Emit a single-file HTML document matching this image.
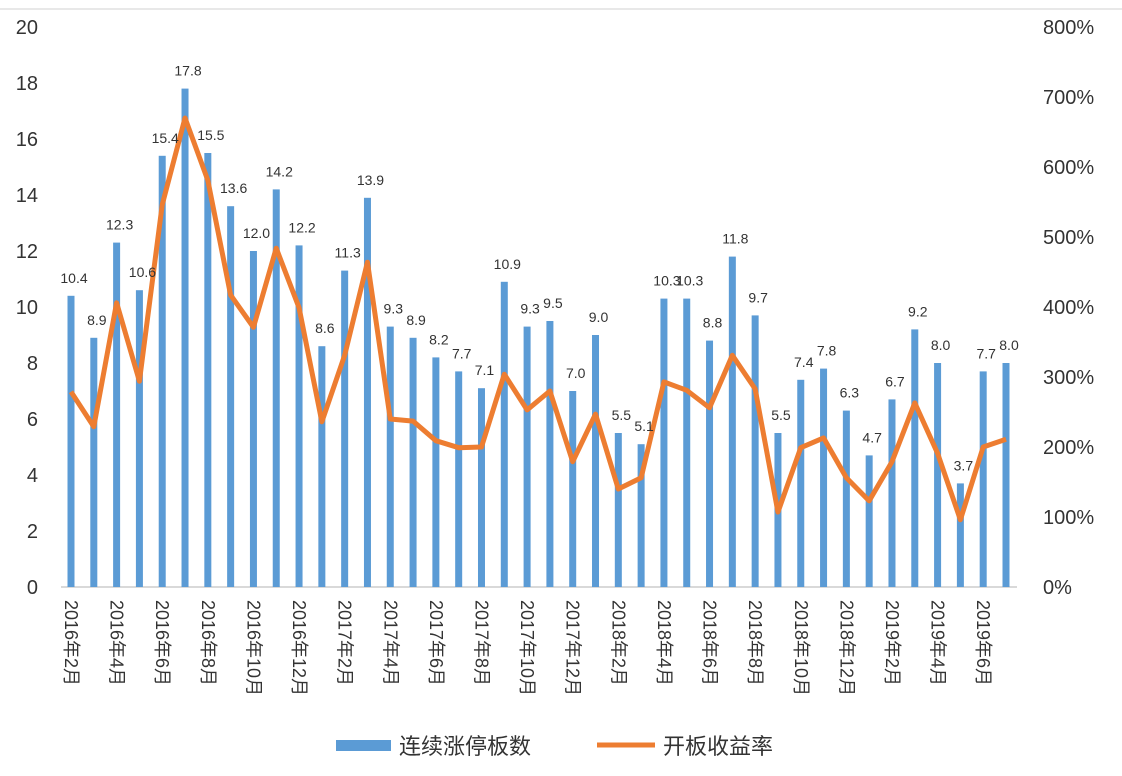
<!DOCTYPE html>
<html><head><meta charset="utf-8"><style>
body{margin:0;background:#fff;width:1122px;height:771px;overflow:hidden;font-family:"Liberation Sans","Noto Sans CJK SC",sans-serif}
</style></head><body>
<svg id="chart" width="1122" height="771" xmlns="http://www.w3.org/2000/svg" style="font-family:'Liberation Sans','Noto Sans CJK SC',sans-serif">
<line x1="0" y1="9" x2="1122" y2="9" stroke="#d0d0d0" stroke-width="1"/>
<g id="g"></g>
<g>
<rect x="336" y="740" width="55" height="11" fill="#5b9bd5"/>
<text x="399" y="754" font-size="22" fill="#333">连续涨停板数</text>
<line x1="597" y1="745" x2="655" y2="745" stroke="#ed7d31" stroke-width="5"/>
<text x="663" y="754" font-size="22" fill="#333">开板收益率</text>
</g>
</svg>
<script>
const months=["2016-02","2016-03","2016-04","2016-05","2016-06","2016-07","2016-08","2016-09","2016-10","2016-11","2016-12","2017-01","2017-02","2017-03","2017-04","2017-05","2017-06","2017-07","2017-08","2017-09","2017-10","2017-11","2017-12","2018-01","2018-02","2018-03","2018-04","2018-05","2018-06","2018-07","2018-08","2018-09","2018-10","2018-11","2018-12","2019-01","2019-02","2019-03","2019-04","2019-05","2019-06","2019-07"];
const boards=[10.4,8.9,12.3,10.6,15.4,17.8,15.5,13.6,12.0,14.2,12.2,8.6,11.3,13.9,9.3,8.9,8.2,7.7,7.1,10.9,9.3,9.5,7.0,9.0,5.5,5.1,10.3,10.3,8.8,11.8,9.7,5.5,7.4,7.8,6.3,4.7,6.7,9.2,8.0,3.7,7.7,8.0];
const returns=[279,229,406,294,546,670,581,417,371,484,399,236,331,464,240,237,209,199,200,304,253,280,179,247,140,156,293,281,256,331,283,107,199,213,156,123,179,263,191,96,200,211];
const leftTicks=[0,2,4,6,8,10,12,14,16,18,20];
const rightTicks=["0%","100%","200%","300%","400%","500%","600%","700%","800%"];
const NS="http://www.w3.org/2000/svg";
const g=document.getElementById('g');
const y0=587,y1=27,x0=71,x1=1006;
const yL=v=>y0-(v/20)*(y0-y1);
const yR=v=>y0-(v/800)*(y0-y1);
const xI=i=>x0+i*(x1-x0)/(months.length-1);
function mk(t,a){const e=document.createElementNS(NS,t);for(const k in a)e.setAttribute(k,a[k]);g.appendChild(e);return e;}
leftTicks.forEach(v=>{const t=mk('text',{x:38,y:yL(v)+7,'font-size':20,'text-anchor':'end',fill:'#333'});t.textContent=v;

});
rightTicks.forEach((s,i)=>{const t=mk('text',{x:1043,y:yR(i*100)+7,'font-size':20,fill:'#333'});t.textContent=s;

});
const ax=mk('line',{x1:61,y1:y0,x2:1017,y2:y0,stroke:'#d9d9d9','stroke-width':2});


boards.forEach((v,i)=>{const r=mk('rect',{x:xI(i)-3.5,y:yL(v),width:7,height:y0-yL(v),fill:'#5b9bd5'});

});
const pts=returns.map((v,i)=>xI(i)+','+yR(v)).join(' ');
const pl=mk('polyline',{points:pts,fill:'none',stroke:'#ed7d31','stroke-width':5,'stroke-linejoin':'round'});


boards.forEach((v,i)=>{const t=mk('text',{x:xI(i)+3,y:yL(v)-13,'font-size':14,'text-anchor':'middle',fill:'#333'});t.textContent=v.toFixed(1);

});
months.forEach((m,i)=>{if(i%2)return;const [yy,mm]=m.split('-');const x=xI(i);
const t=mk('text',{x:0,y:0,'font-size':18,fill:'#333',transform:`translate(${x-6},600) rotate(90)`});
t.textContent=yy+'年'+parseInt(mm)+'月';

});
</script>
</body></html>
